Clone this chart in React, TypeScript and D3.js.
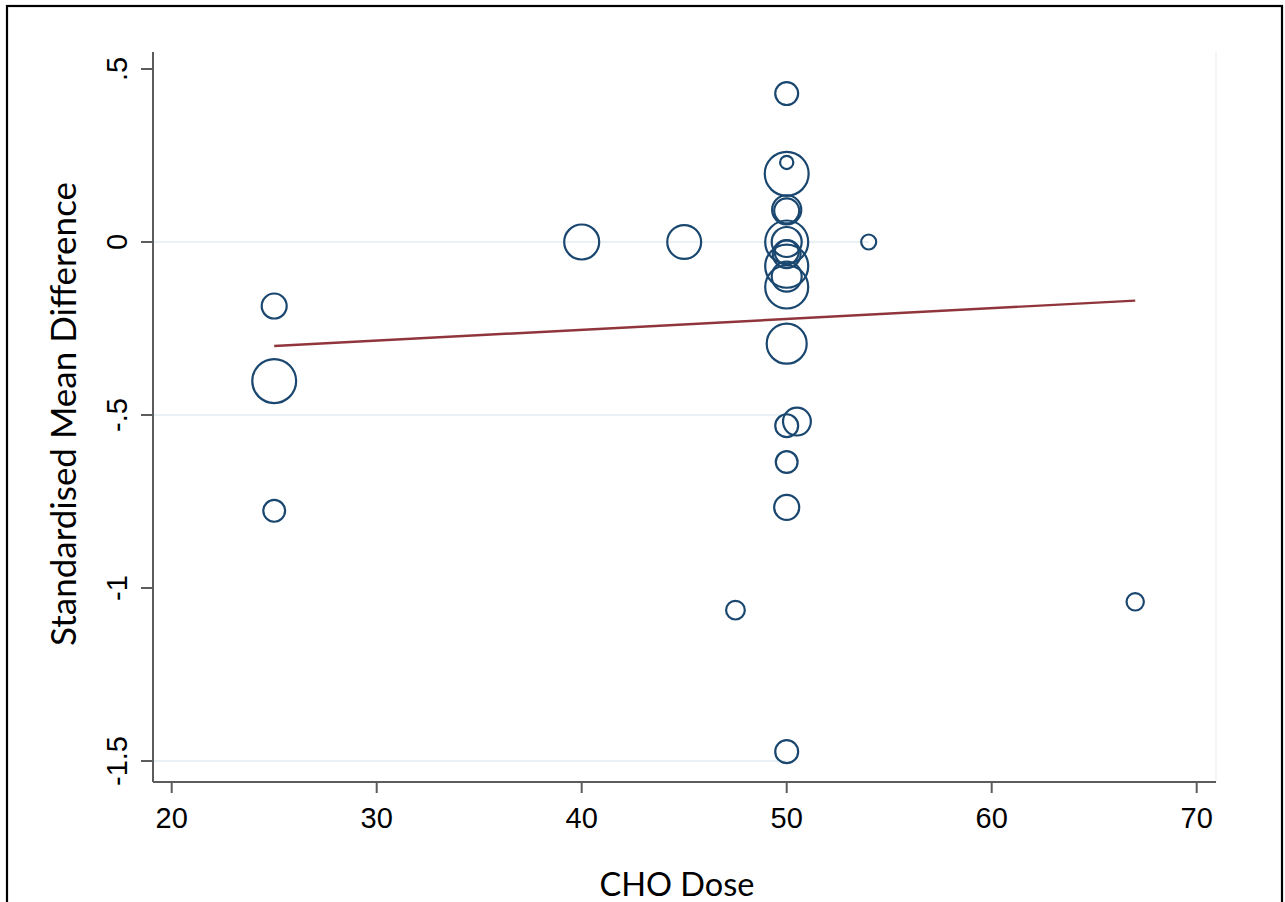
import React from "react";
import * as d3 from "d3";

// Study-level estimates: carbohydrate dose vs standardised mean difference, marker area ~ study weight
const doses = [50, 50, 50, 50, 50, 40, 45, 54, 50, 50, 50, 50, 50, 50, 50, 50, 25, 25, 25, 50, 50.5, 50, 50, 47.5, 67, 50];
const smd = [0.429, 0.23, 0.197, 0.093, 0.09, 0.0, 0.0, 0.0, 0.0, 0.0, -0.03, -0.035, -0.07, -0.1, -0.13, -0.294, -0.185, -0.402, -0.777, -0.531, -0.519, -0.636, -0.767, -1.064, -1.04, -1.473];
const weights = [21, 7, 77, 34, 25, 49, 46, 9, 74, 36, 23, 31, 74, 36, 74, 64, 25, 77, 19, 21, 31, 19, 25, 14, 12, 21];

// Meta-regression fit
const fitIntercept = -0.3787;
const fitSlope = 0.003124;

const xTicks = [20, 30, 40, 50, 60, 70];
const yTicks = [0.5, 0, -0.5, -1, -1.5];
const yTickLabels = [".5", "0", "-.5", "-1", "-1.5"];
// reference lines drawn up to the given dose
const gridLines = [
  { y: 0, to: 54 },
  { y: -0.5, to: 50 },
  { y: -1.5, to: 50 },
];

const W = 1285;
const H = 902;
const left = 153;
const right = 1216;
const top = 52;
const bottom = 782;

export default function App() {
  const x = d3.scaleLinear().domain([20, 70]).range([171.7, 1196.7]);
  const y = d3.scaleLinear().domain([0.5, -1.5]).range([69, 761]);
  const r = d3.scaleSqrt().domain([0, 100]).range([0, 25]);

  const points = doses.map((d, i) => ({ dose: d, smd: smd[i], w: weights[i] }));
  const xMin = d3.min(doses) as number;
  const xMax = d3.max(doses) as number;
  const fitLine = d3.line<number>()
    .x((d) => x(d))
    .y((d) => y(fitIntercept + fitSlope * d));

  const tickFont = "'Liberation Sans', Arial, sans-serif";
  const titleFont = "Lato, 'Open Sans', sans-serif";
  const axisColor = "#5c5c5c";

  return (
    <svg width={W} height={H} style={{ position: "absolute", left: 0, top: 0, background: "#fff" }}>
      <rect x={0} y={0} width={W} height={H} fill="#fff" />
      <rect x={7} y={6} width={1275} height={930} fill="none" stroke="#000" strokeWidth={2.2} />

      {/* grid */}
      {gridLines.map((g) => (
        <line key={g.y} x1={left} x2={x(g.to)} y1={y(g.y)} y2={y(g.y)} stroke="#eaf1f4" strokeWidth={2} />
      ))}
      <line x1={right} x2={right} y1={top} y2={bottom} stroke="#eef3f6" strokeWidth={1.5} />

      {/* fitted line */}
      <path d={fitLine([xMin, xMax]) || ""} fill="none" stroke="#90353b" strokeWidth={2.4} />

      {/* markers */}
      {points.map((p, i) => (
        <circle key={i} cx={x(p.dose)} cy={y(p.smd)} r={r(p.w)} fill="none" stroke="#1a476f" strokeWidth={2.2} />
      ))}

      {/* y axis */}
      <line x1={left} x2={left} y1={top} y2={bottom} stroke={axisColor} strokeWidth={2} />
      {yTicks.map((t, i) => (
        <g key={t}>
          <line x1={left - 12} x2={left} y1={y(t)} y2={y(t)} stroke={axisColor} strokeWidth={2} />
          <text
            transform={`translate(127,${y(t)}) rotate(-90)`}
            textAnchor="middle"
            fontFamily={tickFont}
            fontSize={29}
            fill="#000"
          >
            {yTickLabels[i]}
          </text>
        </g>
      ))}

      {/* x axis */}
      <line x1={left} x2={right} y1={bottom} y2={bottom} stroke={axisColor} strokeWidth={2} />
      {xTicks.map((t) => (
        <g key={t}>
          <line x1={x(t)} x2={x(t)} y1={bottom} y2={bottom + 11} stroke={axisColor} strokeWidth={2} />
          <text x={x(t)} y={828} textAnchor="middle" fontFamily={tickFont} fontSize={29} fill="#000">
            {t}
          </text>
        </g>
      ))}

      {/* axis titles */}
      <text
        transform={`translate(76,${(top + bottom) / 2 - 3}) rotate(-90)`}
        textAnchor="middle"
        fontFamily={titleFont}
        fontSize={35}
        fill="#000"
      >
        Standardised Mean Difference
      </text>
      <text x={677} y={896} textAnchor="middle" fontFamily={titleFont} fontSize={32.5} fill="#000">
        CHO Dose
      </text>
    </svg>
  );
}
